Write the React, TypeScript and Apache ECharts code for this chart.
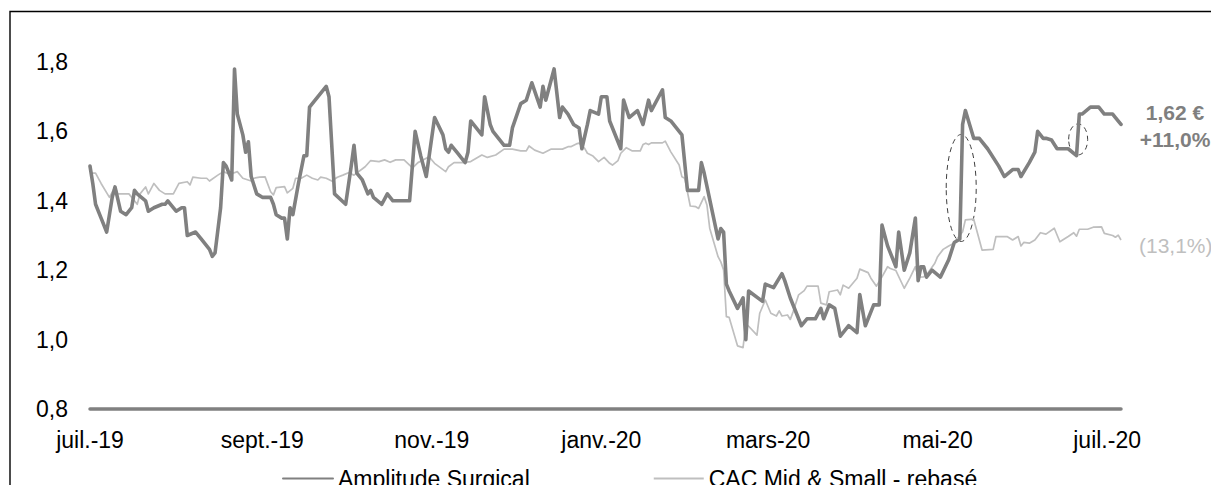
import React, { useEffect, useRef } from "react";
import * as echarts from "echarts";

// ---------- data ----------
const seriesNames = ["Amplitude Surgical", "CAC Mid & Small - rebasé"];

const amplitudeDates = [
  "2019-07-01","2019-07-02","2019-07-03","2019-07-05","2019-07-07","2019-07-09","2019-07-10","2019-07-12","2019-07-14","2019-07-16",
  "2019-07-17","2019-07-18","2019-07-21","2019-07-22","2019-07-24","2019-07-27","2019-07-28","2019-07-29","2019-07-30","2019-08-01",
  "2019-08-03","2019-08-04","2019-08-05","2019-08-08","2019-08-10","2019-08-13","2019-08-14","2019-08-15","2019-08-17","2019-08-18",
  "2019-08-19","2019-08-21","2019-08-22","2019-08-23","2019-08-25","2019-08-26","2019-08-27","2019-08-28","2019-08-30","2019-09-01",
  "2019-09-04","2019-09-05","2019-09-06","2019-09-08","2019-09-09","2019-09-10","2019-09-11","2019-09-12","2019-09-14","2019-09-16",
  "2019-09-17","2019-09-18","2019-09-19","2019-09-24","2019-09-25","2019-09-27","2019-10-01","2019-10-03","2019-10-04","2019-10-05",
  "2019-10-07","2019-10-09","2019-10-10","2019-10-11","2019-10-14","2019-10-16","2019-10-18","2019-10-22","2019-10-24","2019-10-26",
  "2019-10-28","2019-10-30","2019-11-02","2019-11-05","2019-11-06","2019-11-07","2019-11-08","2019-11-10","2019-11-13","2019-11-14",
  "2019-11-15","2019-11-17","2019-11-19","2019-11-20","2019-11-22","2019-11-23","2019-11-27","2019-11-29","2019-11-30","2019-12-03",
  "2019-12-05","2019-12-07","2019-12-10","2019-12-11","2019-12-12","2019-12-15","2019-12-16","2019-12-17","2019-12-18","2019-12-20",
  "2019-12-22","2019-12-24","2019-12-25","2019-12-27","2019-12-28","2019-12-31","2020-01-01","2020-01-03","2020-01-04","2020-01-08",
  "2020-01-09","2020-01-11","2020-01-14","2020-01-16","2020-01-18","2020-01-19","2020-01-23","2020-01-24","2020-01-26","2020-01-30",
  "2020-02-01","2020-02-05","2020-02-06","2020-02-07","2020-02-12","2020-02-13","2020-02-14","2020-02-15","2020-02-16","2020-02-19",
  "2020-02-21","2020-02-22","2020-02-23","2020-02-28","2020-02-29","2020-03-03","2020-03-06","2020-03-07","2020-03-09","2020-03-13",
  "2020-03-15","2020-03-18","2020-03-20","2020-03-21","2020-03-23","2020-03-25","2020-03-27","2020-03-30","2020-04-02","2020-04-03",
  "2020-04-05","2020-04-08","2020-04-10","2020-04-11","2020-04-13","2020-04-16","2020-04-17","2020-04-19","2020-04-21","2020-04-23",
  "2020-04-24","2020-04-25","2020-04-26","2020-04-27","2020-04-29","2020-05-02","2020-05-05","2020-05-07","2020-05-09","2020-05-10",
  "2020-05-11","2020-05-14","2020-05-16","2020-05-19","2020-05-23","2020-05-25","2020-05-28","2020-05-30","2020-05-31","2020-06-03",
  "2020-06-05","2020-06-06","2020-06-08","2020-06-09","2020-06-11","2020-06-13","2020-06-15","2020-06-17","2020-06-20","2020-06-21",
  "2020-06-22","2020-06-25","2020-06-28","2020-06-30","2020-07-03","2020-07-04","2020-07-06"
];
const amplitudeValues = [
  1.50,1.45,1.39,1.35,1.31,1.41,1.44,1.37,1.36,1.38,
  1.43,1.42,1.40,1.37,1.38,1.39,1.39,1.40,1.39,1.37,
  1.38,1.38,1.30,1.31,1.29,1.26,1.24,1.25,1.38,1.51,
  1.50,1.46,1.78,1.65,1.59,1.54,1.57,1.47,1.42,1.41,
  1.41,1.39,1.36,1.35,1.35,1.29,1.38,1.36,1.45,1.53,
  1.53,1.67,1.68,1.73,1.70,1.42,1.39,1.50,1.56,1.48,
  1.46,1.42,1.43,1.41,1.39,1.42,1.40,1.40,1.40,1.60,
  1.53,1.47,1.64,1.59,1.55,1.54,1.56,1.54,1.51,1.54,
  1.63,1.61,1.59,1.70,1.62,1.60,1.56,1.56,1.61,1.68,
  1.69,1.74,1.67,1.73,1.69,1.78,1.71,1.64,1.67,1.65,
  1.62,1.61,1.55,1.62,1.66,1.65,1.70,1.70,1.63,1.55,
  1.69,1.64,1.66,1.62,1.69,1.66,1.72,1.64,1.63,1.59,
  1.43,1.43,1.51,1.48,1.29,1.32,1.31,1.16,1.14,1.09,
  1.12,1.00,1.14,1.11,1.16,1.15,1.19,1.17,1.12,1.04,
  1.06,1.06,1.09,1.06,1.10,1.09,1.01,1.04,1.02,1.13,
  1.04,1.10,1.10,1.33,1.27,1.21,1.31,1.20,1.25,1.35,
  1.17,1.21,1.21,1.18,1.20,1.18,1.23,1.28,1.29,1.62,
  1.66,1.58,1.58,1.55,1.50,1.47,1.49,1.49,1.47,1.51,
  1.54,1.60,1.58,1.58,1.575,1.55,1.55,1.55,1.53,1.65,
  1.65,1.67,1.67,1.65,1.65,1.64,1.62
];

const cacDates = [
  "2019-07-01","2019-07-03","2019-07-05","2019-07-08","2019-07-10","2019-07-11","2019-07-14","2019-07-15","2019-07-18","2019-07-19",
  "2019-07-21","2019-07-22","2019-07-24","2019-07-26","2019-07-28","2019-07-31","2019-08-02","2019-08-05","2019-08-06","2019-08-07",
  "2019-08-10","2019-08-12","2019-08-13","2019-08-16","2019-08-18","2019-08-20","2019-08-22","2019-08-23","2019-08-25","2019-08-28",
  "2019-08-29","2019-08-31","2019-09-02","2019-09-04","2019-09-05","2019-09-06","2019-09-09","2019-09-10","2019-09-12","2019-09-13",
  "2019-09-15","2019-09-17","2019-09-19","2019-09-21","2019-09-22","2019-09-24","2019-09-26","2019-09-28","2019-09-30","2019-10-02",
  "2019-10-04","2019-10-08","2019-10-10","2019-10-13","2019-10-15","2019-10-17","2019-10-19","2019-10-22","2019-10-24","2019-10-25",
  "2019-10-27","2019-10-29","2019-10-31","2019-11-02","2019-11-06","2019-11-07","2019-11-09","2019-11-12","2019-11-15","2019-11-19",
  "2019-11-21","2019-11-24","2019-11-27","2019-11-30","2019-12-03","2019-12-05","2019-12-06","2019-12-08","2019-12-11","2019-12-14",
  "2019-12-18","2019-12-20","2019-12-21","2019-12-23","2019-12-24","2019-12-26","2019-12-27","2019-12-29","2019-12-31","2020-01-02",
  "2020-01-04","2020-01-05","2020-01-07","2020-01-08","2020-01-10","2020-01-12","2020-01-15","2020-01-16","2020-01-17","2020-01-18",
  "2020-01-19","2020-01-23","2020-01-24","2020-01-26","2020-01-29","2020-01-30","2020-01-31","2020-02-02","2020-02-04","2020-02-05",
  "2020-02-07","2020-02-08","2020-02-09","2020-02-12","2020-02-13","2020-02-14","2020-02-15","2020-02-16","2020-02-19","2020-02-21",
  "2020-02-22","2020-02-26","2020-02-27","2020-02-29","2020-03-02","2020-03-04","2020-03-05","2020-03-06","2020-03-08","2020-03-09",
  "2020-03-10","2020-03-12","2020-03-14","2020-03-15","2020-03-19","2020-03-20","2020-03-22","2020-03-23","2020-03-26","2020-03-27",
  "2020-03-28","2020-03-30","2020-04-02","2020-04-03","2020-04-06","2020-04-07","2020-04-09","2020-04-11","2020-04-13","2020-04-14",
  "2020-04-16","2020-04-19","2020-04-21","2020-04-23","2020-04-24","2020-04-26","2020-04-27","2020-04-30","2020-05-01","2020-05-03",
  "2020-05-05","2020-05-07","2020-05-08","2020-05-10","2020-05-11","2020-05-14","2020-05-17","2020-05-21","2020-05-22","2020-05-26",
  "2020-05-28","2020-05-30","2020-05-31","2020-06-01","2020-06-03","2020-06-05","2020-06-07","2020-06-09","2020-06-12","2020-06-14",
  "2020-06-17","2020-06-19","2020-06-20","2020-06-21","2020-06-24","2020-06-26","2020-06-29","2020-06-30","2020-07-03","2020-07-04",
  "2020-07-05","2020-07-06"
];
const cacValues = [
  1.48,1.48,1.45,1.41,1.44,1.42,1.42,1.42,1.39,1.42,
  1.44,1.42,1.45,1.43,1.42,1.42,1.45,1.455,1.446,1.468,
  1.465,1.465,1.457,1.474,1.484,1.477,1.481,1.484,1.465,1.457,
  1.465,1.468,1.469,1.426,1.417,1.438,1.441,1.423,1.436,1.465,
  1.465,1.474,1.465,1.46,1.468,1.465,1.457,1.468,1.474,1.481,
  1.474,1.498,1.516,1.513,1.518,1.511,1.518,1.518,1.503,1.494,
  1.51,1.518,1.527,1.508,1.484,1.498,1.51,1.51,1.513,1.532,
  1.525,1.532,1.549,1.549,1.544,1.544,1.558,1.546,1.537,1.549,
  1.549,1.556,1.556,1.564,1.566,1.551,1.537,1.529,1.513,1.525,
  1.508,1.503,1.516,1.537,1.553,1.544,1.544,1.562,1.566,1.562,
  1.567,1.567,1.572,1.541,1.503,1.469,1.465,1.385,1.383,1.378,
  1.412,1.388,1.321,1.239,1.224,1.201,1.066,1.064,0.982,0.977,
  1.047,1.013,1.076,1.114,1.076,1.068,1.083,1.068,1.071,1.058,
  1.08,1.129,1.141,1.154,1.154,1.105,1.1,1.138,1.143,1.129,
  1.157,1.148,1.177,1.203,1.193,1.177,1.154,1.181,1.21,1.205,
  1.199,1.148,1.177,1.21,1.18,1.181,1.186,1.22,1.239,1.26,
  1.27,1.278,1.29,1.311,1.345,1.347,1.258,1.26,1.297,1.297,
  1.287,1.297,1.27,1.28,1.278,1.287,1.308,1.304,1.321,1.282,
  1.297,1.308,1.298,1.318,1.318,1.324,1.325,1.306,1.3,1.295,
  1.301,1.287
];

const xAxisStart = "2019-07-01";
const xAxisEnd = "2020-07-06";
const xTickDates = ["2019-07-01", "2019-09-01", "2019-11-01", "2020-01-01", "2020-03-01", "2020-05-01", "2020-07-01"];
const xTickLabels = ["juil.-19", "sept.-19", "nov.-19", "janv.-20", "mars-20", "mai-20", "juil.-20"];
const yMin = 0.8;
const yMax = 1.8;
const yStep = 0.2;

const endLabelTexts = ["1,62 €\n+11,0%", "(13,1%)"];
// dashed ellipses drawn around the two jumps: [date, value]
const ellipseAnchors: [string, number][] = [
  ["2020-05-09T12:00:00Z", 1.437],
  ["2020-06-20T14:00:00Z", 1.577],
];

// ---------- chart ----------
const FONT = "'Liberation Sans', Arial, sans-serif";
const DARK = "#808080";
const LIGHT = "#bfbfbf";

const toTime = (s: string) => Date.parse(s.length === 10 ? s + "T00:00:00Z" : s);
const ampData = amplitudeDates.map((d, i) => [toTime(d), amplitudeValues[i]]);
const cacData = cacDates.map((d, i) => [toTime(d), cacValues[i]]);
const tickTimes = xTickDates.map(toTime);

export default function App() {
  const ref = useRef<HTMLDivElement>(null);

  useEffect(() => {
    if (!ref.current) return;
    const chart = echarts.init(ref.current, null, { renderer: "svg" });
    chart.setOption({
      animation: false,
      backgroundColor: "#ffffff",
      textStyle: { fontFamily: FONT },
      grid: { left: 90, right: 90, top: 62, bottom: 76, outerBoundsMode: "none" },
      legend: {
        left: 282,
        top: 467,
        padding: 0,
        itemWidth: 50,
        itemHeight: 14,
        itemGap: 123,
        data: seriesNames,
        itemStyle: { opacity: 0 },
        textStyle: { fontSize: 23, color: "#000", fontFamily: FONT },
      },
      xAxis: {
        type: "value",
        min: toTime(xAxisStart),
        max: toTime(xAxisEnd),
        axisLine: { show: true, lineStyle: { color: DARK, width: 3.5 } },
        axisTick: { show: false },
        splitLine: { show: false },
        axisLabel: {
          customValues: tickTimes,
          formatter: (v: number) => {
            const i = tickTimes.indexOf(v);
            return i >= 0 ? xTickLabels[i] : "";
          },
          fontSize: 23,
          color: "#000",
          margin: 19,
          fontFamily: FONT,
        },
      },
      yAxis: {
        type: "value",
        min: yMin,
        max: yMax,
        interval: yStep,
        axisLine: { show: false },
        axisTick: { show: false },
        splitLine: { show: false },
        axisLabel: {
          formatter: (v: number) => v.toFixed(1).replace(".", ","),
          fontSize: 23,
          color: "#000",
          margin: 22,
          fontFamily: FONT,
        },
      },
      series: [
        {
          name: seriesNames[0],
          type: "line",
          data: ampData,
          symbol: "none",
          showSymbol: false,
          z: 3,
          lineStyle: { color: DARK, width: 3.6, join: "round", cap: "round" },
          itemStyle: { color: DARK },
        },
        {
          name: seriesNames[1],
          type: "line",
          data: cacData,
          symbol: "none",
          showSymbol: false,
          z: 2,
          lineStyle: { color: LIGHT, width: 1.7, join: "round" },
          itemStyle: { color: LIGHT },
        },
      ],
    });

    const ampLast = ampData[ampData.length - 1];
    const cacLast = cacData[cacData.length - 1];
    const pA = chart.convertToPixel({ gridIndex: 0 }, ampLast) as number[];
    const pC = chart.convertToPixel({ gridIndex: 0 }, cacLast) as number[];
    const e1 = chart.convertToPixel({ gridIndex: 0 }, [toTime(ellipseAnchors[0][0]), ellipseAnchors[0][1]]) as number[];
    const e2 = chart.convertToPixel({ gridIndex: 0 }, [toTime(ellipseAnchors[1][0]), ellipseAnchors[1][1]]) as number[];

    chart.setOption({
      graphic: [
        {
          type: "rect",
          silent: true,
          shape: { x: 10, y: 11.5, width: 1400, height: 700 },
          style: { fill: "none", stroke: "#000", lineWidth: 1.4 },
        },
        {
          type: "ellipse",
          silent: true,
          shape: { cx: e1[0], cy: e1[1], rx: 15, ry: 53.5 },
          style: { fill: "none", stroke: "#404040", lineWidth: 1, lineDash: [5, 4] },
        },
        {
          type: "ellipse",
          silent: true,
          shape: { cx: e2[0], cy: e2[1], rx: 9.5, ry: 15.5 },
          style: { fill: "none", stroke: "#404040", lineWidth: 1, lineDash: [5, 4] },
        },
        {
          type: "text",
          silent: true,
          x: pA[0] + 54,
          y: pA[1] + 2,
          style: {
            text: endLabelTexts[0],
            fill: "#7f7f7f",
            font: `bold 21px ${FONT}`,
            align: "center",
            verticalAlign: "middle",
            lineHeight: 27,
          },
        },
        {
          type: "text",
          silent: true,
          x: pC[0] + 18,
          y: pC[1] + 5,
          style: {
            text: endLabelTexts[1],
            fill: LIGHT,
            font: `21px ${FONT}`,
            align: "left",
            verticalAlign: "middle",
          },
        },
      ],
    });

    return () => chart.dispose();
  }, []);

  return (
    <div
      ref={ref}
      style={{ position: "fixed", left: 0, top: 0, width: 1211, height: 485, background: "#fff" }}
    />
  );
}
